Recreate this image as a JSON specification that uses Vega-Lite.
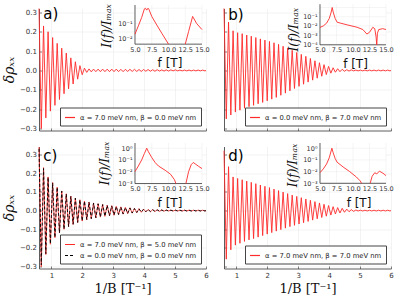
{
"$schema":"https://vega.github.io/schema/vega-lite/v6.json",
"background":"white",
"padding":{"left":2,"top":3.5,"right":0,"bottom":0},
"datasets":{
"a":[{"x":0.6,"y":0.32},{"x":0.674,"y":-0.3},{"x":0.747,"y":0.23},{"x":0.821,"y":-0.245},{"x":0.894,"y":0.2},{"x":0.968,"y":-0.21},{"x":1.041,"y":0.17},{"x":1.115,"y":-0.18},{"x":1.188,"y":0.14},{"x":1.262,"y":-0.15},{"x":1.335,"y":0.115},{"x":1.409,"y":-0.12},{"x":1.482,"y":0.09},{"x":1.556,"y":-0.095},{"x":1.629,"y":0.065},{"x":1.703,"y":-0.07},{"x":1.776,"y":0.045},{"x":1.85,"y":-0.045},{"x":1.923,"y":0.025},{"x":1.997,"y":-0.022},{"x":2.07,"y":0.012},{"x":2.144,"y":-0.01},{"x":2.217,"y":0.008},{"x":2.291,"y":-0.007},{"x":2.364,"y":0.007},{"x":2.438,"y":-0.006},{"x":2.511,"y":0.007},{"x":2.585,"y":-0.006},{"x":2.658,"y":0.007},{"x":2.732,"y":-0.006},{"x":2.805,"y":0.007},{"x":2.879,"y":-0.006},{"x":2.952,"y":0.007},{"x":3.026,"y":-0.006},{"x":3.099,"y":0.007},{"x":3.173,"y":-0.006},{"x":3.246,"y":0.006},{"x":3.32,"y":-0.006},{"x":3.393,"y":0.006},{"x":3.467,"y":-0.005},{"x":3.54,"y":0.006},{"x":3.614,"y":-0.005},{"x":3.687,"y":0.006},{"x":3.761,"y":-0.005},{"x":3.834,"y":0.005},{"x":3.908,"y":-0.005},{"x":3.981,"y":0.005},{"x":4.055,"y":-0.004},{"x":4.128,"y":0.005},{"x":4.202,"y":-0.004},{"x":4.275,"y":0.004},{"x":4.349,"y":-0.004},{"x":4.422,"y":0.004},{"x":4.496,"y":-0.003},{"x":4.569,"y":0.003},{"x":4.643,"y":-0.003},{"x":4.716,"y":0.003},{"x":4.79,"y":-0.003},{"x":4.863,"y":0.003},{"x":4.937,"y":-0.002},{"x":5.01,"y":0.003},{"x":5.084,"y":-0.002},{"x":5.157,"y":0.002},{"x":5.231,"y":-0.002},{"x":5.304,"y":0.002},{"x":5.378,"y":-0.002},{"x":5.451,"y":0.002},{"x":5.525,"y":-0.002},{"x":5.598,"y":0.002},{"x":5.672,"y":-0.002},{"x":5.745,"y":0.002},{"x":5.819,"y":-0.002},{"x":5.892,"y":0.002},{"x":5.966,"y":-0.002},{"x":6,"y":0}],
"b":[{"x":0.6,"y":0.32},{"x":0.674,"y":-0.25},{"x":0.747,"y":0.25},{"x":0.821,"y":-0.23},{"x":0.894,"y":0.205},{"x":0.968,"y":-0.215},{"x":1.041,"y":0.195},{"x":1.115,"y":-0.205},{"x":1.188,"y":0.19},{"x":1.262,"y":-0.195},{"x":1.335,"y":0.183},{"x":1.409,"y":-0.187},{"x":1.482,"y":0.177},{"x":1.556,"y":-0.18},{"x":1.629,"y":0.17},{"x":1.703,"y":-0.172},{"x":1.776,"y":0.163},{"x":1.85,"y":-0.165},{"x":1.923,"y":0.157},{"x":1.997,"y":-0.157},{"x":2.07,"y":0.15},{"x":2.144,"y":-0.148},{"x":2.217,"y":0.143},{"x":2.291,"y":-0.139},{"x":2.364,"y":0.135},{"x":2.438,"y":-0.128},{"x":2.511,"y":0.125},{"x":2.585,"y":-0.117},{"x":2.658,"y":0.115},{"x":2.732,"y":-0.105},{"x":2.805,"y":0.104},{"x":2.879,"y":-0.093},{"x":2.952,"y":0.093},{"x":3.026,"y":-0.082},{"x":3.099,"y":0.083},{"x":3.173,"y":-0.071},{"x":3.246,"y":0.073},{"x":3.32,"y":-0.06},{"x":3.393,"y":0.062},{"x":3.467,"y":-0.05},{"x":3.54,"y":0.05},{"x":3.614,"y":-0.04},{"x":3.687,"y":0.04},{"x":3.761,"y":-0.03},{"x":3.834,"y":0.03},{"x":3.908,"y":-0.021},{"x":3.981,"y":0.021},{"x":4.055,"y":-0.014},{"x":4.128,"y":0.014},{"x":4.202,"y":-0.009},{"x":4.275,"y":0.009},{"x":4.349,"y":-0.006},{"x":4.422,"y":0.006},{"x":4.496,"y":-0.004},{"x":4.569,"y":0.004},{"x":4.643,"y":-0.003},{"x":4.716,"y":0.003},{"x":4.79,"y":-0.002},{"x":4.863,"y":0.002},{"x":4.937,"y":-0.002},{"x":5.01,"y":0.002},{"x":5.084,"y":-0.002},{"x":5.157,"y":0.002},{"x":5.231,"y":-0.002},{"x":5.304,"y":0.002},{"x":5.378,"y":-0.002},{"x":5.451,"y":0.002},{"x":5.525,"y":-0.002},{"x":5.598,"y":0.002},{"x":5.672,"y":-0.002},{"x":5.745,"y":0.002},{"x":5.819,"y":-0.002},{"x":5.892,"y":0.002},{"x":5.966,"y":-0.002},{"x":6,"y":0}],
"c1":[{"x":0.6,"y":0.34},{"x":0.674,"y":-0.3},{"x":0.747,"y":0.23},{"x":0.821,"y":-0.235},{"x":0.894,"y":0.18},{"x":0.968,"y":-0.18},{"x":1.041,"y":0.15},{"x":1.115,"y":-0.145},{"x":1.188,"y":0.125},{"x":1.262,"y":-0.12},{"x":1.335,"y":0.105},{"x":1.409,"y":-0.1},{"x":1.482,"y":0.09},{"x":1.556,"y":-0.086},{"x":1.629,"y":0.077},{"x":1.703,"y":-0.074},{"x":1.776,"y":0.067},{"x":1.85,"y":-0.064},{"x":1.923,"y":0.058},{"x":1.997,"y":-0.056},{"x":2.07,"y":0.051},{"x":2.144,"y":-0.049},{"x":2.217,"y":0.046},{"x":2.291,"y":-0.044},{"x":2.364,"y":0.041},{"x":2.438,"y":-0.039},{"x":2.511,"y":0.037},{"x":2.585,"y":-0.035},{"x":2.658,"y":0.033},{"x":2.732,"y":-0.031},{"x":2.805,"y":0.029},{"x":2.879,"y":-0.028},{"x":2.952,"y":0.026},{"x":3.026,"y":-0.025},{"x":3.099,"y":0.023},{"x":3.173,"y":-0.022},{"x":3.246,"y":0.02},{"x":3.32,"y":-0.019},{"x":3.393,"y":0.017},{"x":3.467,"y":-0.016},{"x":3.54,"y":0.015},{"x":3.614,"y":-0.014},{"x":3.687,"y":0.012},{"x":3.761,"y":-0.011},{"x":3.834,"y":0.01},{"x":3.908,"y":-0.009},{"x":3.981,"y":0.008},{"x":4.055,"y":-0.007},{"x":4.128,"y":0.006},{"x":4.202,"y":-0.006},{"x":4.275,"y":0.005},{"x":4.349,"y":-0.005},{"x":4.422,"y":0.004},{"x":4.496,"y":-0.004},{"x":4.569,"y":0.003},{"x":4.643,"y":-0.003},{"x":4.716,"y":0.003},{"x":4.79,"y":-0.002},{"x":4.863,"y":0.002},{"x":4.937,"y":-0.002},{"x":5.01,"y":0.002},{"x":5.084,"y":-0.002},{"x":5.157,"y":0.002},{"x":5.231,"y":-0.002},{"x":5.304,"y":0.002},{"x":5.378,"y":-0.002},{"x":5.451,"y":0.002},{"x":5.525,"y":-0.002},{"x":5.598,"y":0.002},{"x":5.672,"y":-0.002},{"x":5.745,"y":0.002},{"x":5.819,"y":-0.002},{"x":5.892,"y":0.002},{"x":5.966,"y":-0.002},{"x":6,"y":0}],
"c0":[{"x":0.6,"y":0.33},{"x":0.674,"y":-0.29},{"x":0.747,"y":0.225},{"x":0.821,"y":-0.23},{"x":0.894,"y":0.177},{"x":0.968,"y":-0.177},{"x":1.041,"y":0.148},{"x":1.115,"y":-0.143},{"x":1.188,"y":0.124},{"x":1.262,"y":-0.119},{"x":1.335,"y":0.104},{"x":1.409,"y":-0.099},{"x":1.482,"y":0.089},{"x":1.556,"y":-0.085},{"x":1.629,"y":0.076},{"x":1.703,"y":-0.073},{"x":1.776,"y":0.066},{"x":1.85,"y":-0.063},{"x":1.923,"y":0.057},{"x":1.997,"y":-0.055},{"x":2.07,"y":0.05},{"x":2.144,"y":-0.048},{"x":2.217,"y":0.045},{"x":2.291,"y":-0.043},{"x":2.364,"y":0.04},{"x":2.438,"y":-0.038},{"x":2.511,"y":0.036},{"x":2.585,"y":-0.034},{"x":2.658,"y":0.032},{"x":2.732,"y":-0.03},{"x":2.805,"y":0.028},{"x":2.879,"y":-0.027},{"x":2.952,"y":0.025},{"x":3.026,"y":-0.024},{"x":3.099,"y":0.022},{"x":3.173,"y":-0.021},{"x":3.246,"y":0.019},{"x":3.32,"y":-0.018},{"x":3.393,"y":0.016},{"x":3.467,"y":-0.015},{"x":3.54,"y":0.014},{"x":3.614,"y":-0.013},{"x":3.687,"y":0.011},{"x":3.761,"y":-0.01},{"x":3.834,"y":0.009},{"x":3.908,"y":-0.008},{"x":3.981,"y":0.007},{"x":4.055,"y":-0.006},{"x":4.128,"y":0.006},{"x":4.202,"y":-0.005},{"x":4.275,"y":0.005},{"x":4.349,"y":-0.004},{"x":4.422,"y":0.004},{"x":4.496,"y":-0.003},{"x":4.569,"y":0.003},{"x":4.643,"y":-0.003},{"x":4.716,"y":0.002},{"x":4.79,"y":-0.002},{"x":4.863,"y":0.002},{"x":4.937,"y":-0.002},{"x":5.01,"y":0.002},{"x":5.084,"y":-0.002},{"x":5.157,"y":0.002},{"x":5.231,"y":-0.002},{"x":5.304,"y":0.002},{"x":5.378,"y":-0.002},{"x":5.451,"y":0.002},{"x":5.525,"y":-0.002},{"x":5.598,"y":0.002},{"x":5.672,"y":-0.002},{"x":5.745,"y":0.002},{"x":5.819,"y":-0.002},{"x":5.892,"y":0.002},{"x":5.966,"y":-0.002},{"x":6,"y":0}],
"d":[{"x":0.6,"y":0.32},{"x":0.674,"y":-0.26},{"x":0.747,"y":0.235},{"x":0.821,"y":-0.21},{"x":0.894,"y":0.18},{"x":0.968,"y":-0.185},{"x":1.041,"y":0.172},{"x":1.115,"y":-0.175},{"x":1.188,"y":0.165},{"x":1.262,"y":-0.165},{"x":1.335,"y":0.158},{"x":1.409,"y":-0.157},{"x":1.482,"y":0.151},{"x":1.556,"y":-0.15},{"x":1.629,"y":0.144},{"x":1.703,"y":-0.142},{"x":1.776,"y":0.137},{"x":1.85,"y":-0.134},{"x":1.923,"y":0.13},{"x":1.997,"y":-0.126},{"x":2.07,"y":0.123},{"x":2.144,"y":-0.118},{"x":2.217,"y":0.115},{"x":2.291,"y":-0.11},{"x":2.364,"y":0.107},{"x":2.438,"y":-0.102},{"x":2.511,"y":0.099},{"x":2.585,"y":-0.094},{"x":2.658,"y":0.091},{"x":2.732,"y":-0.086},{"x":2.805,"y":0.083},{"x":2.879,"y":-0.079},{"x":2.952,"y":0.076},{"x":3.026,"y":-0.072},{"x":3.099,"y":0.069},{"x":3.173,"y":-0.065},{"x":3.246,"y":0.062},{"x":3.32,"y":-0.058},{"x":3.393,"y":0.055},{"x":3.467,"y":-0.051},{"x":3.54,"y":0.048},{"x":3.614,"y":-0.044},{"x":3.687,"y":0.041},{"x":3.761,"y":-0.037},{"x":3.834,"y":0.034},{"x":3.908,"y":-0.03},{"x":3.981,"y":0.027},{"x":4.055,"y":-0.024},{"x":4.128,"y":0.021},{"x":4.202,"y":-0.018},{"x":4.275,"y":0.016},{"x":4.349,"y":-0.013},{"x":4.422,"y":0.012},{"x":4.496,"y":-0.009},{"x":4.569,"y":0.008},{"x":4.643,"y":-0.006},{"x":4.716,"y":0.005},{"x":4.79,"y":-0.004},{"x":4.863,"y":0.003},{"x":4.937,"y":-0.002},{"x":5.01,"y":0.002},{"x":5.084,"y":-0.002},{"x":5.157,"y":0.002},{"x":5.231,"y":-0.002},{"x":5.304,"y":0.002},{"x":5.378,"y":-0.002},{"x":5.451,"y":0.002},{"x":5.525,"y":-0.002},{"x":5.598,"y":0.002},{"x":5.672,"y":-0.002},{"x":5.745,"y":0.002},{"x":5.819,"y":-0.002},{"x":5.892,"y":0.002},{"x":5.966,"y":-0.002},{"x":6,"y":0}],
"ia":[{"f":5.0,"I":0.02,"p":1},{"f":5.5,"I":0.07,"p":1},{"f":6.0,"I":0.25,"p":1},{"f":6.4,"I":0.9,"p":1},{"f":6.55,"I":1.0,"p":1},{"f":6.75,"I":0.75,"p":1},{"f":6.95,"I":1.0,"p":1},{"f":7.1,"I":0.8,"p":1},{"f":7.5,"I":0.29,"p":1},{"f":8.25,"I":0.08,"p":1},{"f":9.0,"I":0.023,"p":1},{"f":10.0,"I":0.00447,"p":1},{"f":12.5,"I":0.00447,"p":2},{"f":13.0,"I":0.03,"p":2},{"f":13.6,"I":0.29,"p":2},{"f":14.2,"I":0.1,"p":2},{"f":15.0,"I":0.04,"p":2}],
"ib":[{"f":5.0,"I":0.0068,"p":1},{"f":5.5,"I":0.01,"p":1},{"f":6.0,"I":0.02,"p":1},{"f":6.4,"I":0.063,"p":1},{"f":6.7,"I":0.32,"p":1},{"f":6.85,"I":1.0,"p":1},{"f":7.0,"I":0.32,"p":1},{"f":7.3,"I":0.063,"p":1},{"f":7.6,"I":0.025,"p":1},{"f":9.1,"I":0.013,"p":1},{"f":10.6,"I":0.0072,"p":1},{"f":11.5,"I":0.004,"p":1},{"f":12.1,"I":0.0013,"p":1},{"f":12.5,"I":0.002,"p":1},{"f":13.0,"I":0.007,"p":1},{"f":13.3,"I":0.005,"p":1},{"f":13.5,"I":0.0006,"p":1},{"f":13.6,"I":0.000088,"p":1},{"f":13.7,"I":0.0016,"p":1},{"f":13.9,"I":0.004,"p":1},{"f":14.5,"I":0.005,"p":1},{"f":15.0,"I":0.004,"p":1}],
"ic":[{"f":5.0,"I":0.01,"p":1},{"f":5.5,"I":0.03,"p":1},{"f":6.0,"I":0.1,"p":1},{"f":6.4,"I":0.35,"p":1},{"f":6.75,"I":1.0,"p":1},{"f":7.0,"I":0.5,"p":1},{"f":7.5,"I":0.16,"p":1},{"f":8.0,"I":0.06,"p":1},{"f":8.5,"I":0.03,"p":1},{"f":9.5,"I":0.013,"p":1},{"f":10.3,"I":0.006,"p":1},{"f":10.9,"I":0.002,"p":1},{"f":11.1,"I":0.00095,"p":1},{"f":12.6,"I":0.00095,"p":2},{"f":13.0,"I":0.01,"p":2},{"f":13.4,"I":0.04,"p":2},{"f":13.7,"I":0.06,"p":2},{"f":14.0,"I":0.045,"p":2},{"f":14.5,"I":0.028,"p":2},{"f":15.0,"I":0.018,"p":2}],
"id":[{"f":5.0,"I":0.008,"p":1},{"f":5.5,"I":0.017,"p":1},{"f":6.0,"I":0.045,"p":1},{"f":6.4,"I":0.15,"p":1},{"f":6.8,"I":1.0,"p":1},{"f":7.0,"I":0.4,"p":1},{"f":7.3,"I":0.13,"p":1},{"f":7.6,"I":0.063,"p":1},{"f":8.5,"I":0.025,"p":1},{"f":9.5,"I":0.01,"p":1},{"f":10.5,"I":0.0035,"p":1},{"f":11.1,"I":0.0016,"p":1},{"f":11.3,"I":0.001,"p":1},{"f":12.6,"I":0.001,"p":2},{"f":12.9,"I":0.004,"p":2},{"f":13.3,"I":0.008,"p":2},{"f":13.6,"I":0.0063,"p":2},{"f":14.0,"I":0.011,"p":2},{"f":14.4,"I":0.008,"p":2},{"f":14.7,"I":0.0063,"p":2},{"f":15.0,"I":0.0045,"p":2}],
"gv":[{"g":7.5},{"g":10},{"g":12.5},{"g":15}]
},
"config":{
"view":{"stroke":null},
"font":"DejaVu Sans",
"axis":{"labelFont":"DejaVu Sans","labelFontSize":7,"labelColor":"#333","domainColor":"#333","domainWidth":0.8,"tickColor":"#333","tickSize":-2.5,"tickWidth":0.6,"labelPadding":5,"gridColor":"#e6e6e6","gridWidth":0.5,"grid":true,"titleFont":"DejaVu Serif","titleFontWeight":"normal","titleFontSize":14,"titleColor":"#111","labelOverlap":false,"labelFlush":false,"tickCount":20},
"legend":{"orient":"bottom-right","offset":5,"padding":4,"strokeColor":"#444","fillColor":"#ffffff","labelFont":"DejaVu Sans","labelFontSize":6.8,"labelColor":"#222","symbolType":"stroke","symbolSize":100,"symbolStrokeWidth":1.2,"rowPadding":1,"labelLimit":400,"zindex":1}
},
"columns":2,
"spacing":{"row":16,"column":18},
"bounds":"flush",
"resolve":{"scale":{"color":"independent","strokeDash":"independent"},"legend":{"color":"independent","strokeDash":"independent"}},
"concat":[
{"width":167,"height":122,
"layer":[
{"layer":[
{"data":{"name":"a"},"mark":{"type":"line","strokeWidth":0.9},
"encoding":{
"x":{"field":"x","type":"quantitative","scale":{"domain":[0.6,6],"nice":false,"zero":false},"axis":{"values":[1,2,3,4,5,6],"tickCount":20,"labels":false,"title":null}},
"y":{"field":"y","type":"quantitative","scale":{"domain":[-0.31,0.32],"nice":false,"zero":false},"axis":{"values":[-0.3,-0.2,-0.1,0,0.1,0.2,0.3],"tickCount":20,"format":".1f","labelOverlap":false,"title":"δρₓₓ","titleFontStyle":"italic","titlePadding":3}},
"color":{"datum":"α = 7.0 meV nm, β = 0.0 meV nm","scale":{"range":["#ff2a2a"]},"legend":{"title":null}}}},
{"data":{"values":[{}]},"mark":{"type":"text","fontSize":15,"align":"left","baseline":"middle","font":"DejaVu Sans","color":"#000"},
"encoding":{"x":{"datum":0.74},"y":{"datum":0.29},"text":{"value":"a)"}}}
]},
{"layer":[
{"data":{"values":[{}]},"mark":{"type":"rect","fill":"white"},
"encoding":{
"x":{"datum":5,"type":"quantitative","scale":{"domain":[-9.328,15.597],"nice":false,"zero":false},"axis":{"orient":"bottom","offset":-86.3,"values":[5,7.5,10,12.5,15],"tickCount":20,"format":".1f","labelOverlap":false,"domain":false,"ticks":false,"grid":false,"labelFontSize":6.5,"labelPadding":2,"title":null}},
"x2":{"datum":15},
"y":{"datum":0.00447,"type":"quantitative","scale":{"type":"log","domain":[1.016e-8,0.956],"nice":false},"axis":{"orient":"left","offset":-96,"values":[1,0.1,0.01],"tickCount":20,"labelOverlap":false,"labelExpr":"datum.value >= 0.5 ? '10⁰' : datum.value >= 0.05 ? '10⁻¹' : datum.value >= 0.005 ? '10⁻²' : datum.value >= 0.0005 ? '10⁻³' : '10⁻⁴'","domain":false,"ticks":false,"grid":false,"labelFontSize":6.5,"labelPadding":3,"title":null}},
"y2":{"datum":1.62}}},
{"data":{"name":"gv"},"mark":{"type":"rule","stroke":"#ebebeb","strokeWidth":0.5},"encoding":{"x":{"field":"g","type":"quantitative"},"y":{"datum":0.00447},"y2":{"datum":1.62}}},
{"data":{"values":[{"h":1},{"h":0.1},{"h":0.01}]},"mark":{"type":"rule","stroke":"#ebebeb","strokeWidth":0.5},"encoding":{"y":{"field":"h","type":"quantitative"},"x":{"datum":5},"x2":{"datum":15}}},
{"data":{"values":[{}]},"mark":{"type":"rule","stroke":"#333","strokeWidth":0.8},"encoding":{"x":{"datum":5},"y":{"datum":0.00447},"y2":{"datum":1.62}}},
{"data":{"values":[{}]},"mark":{"type":"rule","stroke":"#333","strokeWidth":0.8},"encoding":{"x":{"datum":5},"x2":{"datum":15},"y":{"datum":0.00447}}},
{"data":{"name":"ia"},"mark":{"type":"line","stroke":"#ff2a2a","strokeWidth":0.9},"encoding":{"x":{"field":"f","type":"quantitative"},"y":{"field":"I","type":"quantitative"},"detail":{"field":"p","type":"nominal"}}},
{"data":{"values":[{}]},"mark":{"type":"text","angle":270,"font":"DejaVu Serif","fontStyle":"italic","fontSize":12,"align":"center","baseline":"middle","color":"#111"},"encoding":{"x":{"datum":0.821},"y":{"datum":0.0687},"text":{"value":"I(f)/Iₘₐₓ"}}},
{"data":{"values":[{}]},"mark":{"type":"text","font":"DejaVu Sans","fontSize":12,"align":"center","baseline":"middle","color":"#111"},"encoding":{"x":{"datum":10.22},"y":{"datum":0.000282},"text":{"value":"f [T]"}}}
]}
],
"resolve":{"scale":{"x":"independent","y":"independent"},"axis":{"x":"independent","y":"independent"}}},
{"width":167,"height":122,
"layer":[
{"layer":[
{"data":{"name":"b"},"mark":{"type":"line","strokeWidth":0.9},
"encoding":{
"x":{"field":"x","type":"quantitative","scale":{"domain":[0.6,6],"nice":false,"zero":false},"axis":{"values":[1,2,3,4,5,6],"tickCount":20,"labels":false,"title":null}},
"y":{"field":"y","type":"quantitative","scale":{"domain":[-0.31,0.32],"nice":false,"zero":false},"axis":{"values":[-0.3,-0.2,-0.1,0,0.1,0.2,0.3],"tickCount":20,"labels":false,"title":null}},
"color":{"datum":"α = 0.0 meV nm, β = 7.0 meV nm","scale":{"range":["#ff2a2a"]},"legend":{"title":null}}}},
{"data":{"values":[{}]},"mark":{"type":"text","fontSize":15,"align":"left","baseline":"middle","font":"DejaVu Sans","color":"#000"},
"encoding":{"x":{"datum":0.74},"y":{"datum":0.285},"text":{"value":"b)"}}}
]},
{"layer":[
{"data":{"values":[{}]},"mark":{"type":"rect","fill":"white"},
"encoding":{
"x":{"datum":5,"type":"quantitative","scale":{"domain":[-9.545,15.758],"nice":false,"zero":false},"axis":{"orient":"bottom","offset":-85.7,"values":[5,7.5,10,12.5,15],"tickCount":20,"format":".1f","labelOverlap":false,"domain":false,"ticks":false,"grid":false,"labelFontSize":6.5,"labelPadding":2,"title":null}},
"x2":{"datum":15},
"y":{"datum":0.000088,"type":"quantitative","scale":{"type":"log","domain":[4.27e-14,0.7786],"nice":false},"axis":{"orient":"left","offset":-96,"values":[1,0.1,0.01,0.001,0.0001],"tickCount":20,"labelOverlap":false,"labelExpr":"datum.value >= 0.5 ? '10⁰' : datum.value >= 0.05 ? '10⁻¹' : datum.value >= 0.005 ? '10⁻²' : datum.value >= 0.0005 ? '10⁻³' : '10⁻⁴'","domain":false,"ticks":false,"grid":false,"labelFontSize":6.5,"labelPadding":3,"title":null}},
"y2":{"datum":2.28}}},
{"data":{"name":"gv"},"mark":{"type":"rule","stroke":"#ebebeb","strokeWidth":0.5},"encoding":{"x":{"field":"g","type":"quantitative"},"y":{"datum":0.000088},"y2":{"datum":2.28}}},
{"data":{"values":[{"h":1},{"h":0.1},{"h":0.01},{"h":0.001},{"h":0.0001}]},"mark":{"type":"rule","stroke":"#ebebeb","strokeWidth":0.5},"encoding":{"y":{"field":"h","type":"quantitative"},"x":{"datum":5},"x2":{"datum":15}}},
{"data":{"values":[{}]},"mark":{"type":"rule","stroke":"#333","strokeWidth":0.8},"encoding":{"x":{"datum":5},"y":{"datum":0.000088},"y2":{"datum":2.28}}},
{"data":{"values":[{}]},"mark":{"type":"rule","stroke":"#333","strokeWidth":0.8},"encoding":{"x":{"datum":5},"x2":{"datum":15},"y":{"datum":0.000088}}},
{"data":{"name":"ib"},"mark":{"type":"line","stroke":"#ff2a2a","strokeWidth":0.9},"encoding":{"x":{"field":"f","type":"quantitative"},"y":{"field":"I","type":"quantitative"},"detail":{"field":"p","type":"nominal"}}},
{"data":{"values":[{}]},"mark":{"type":"text","angle":270,"font":"DejaVu Serif","fontStyle":"italic","fontSize":12,"align":"center","baseline":"middle","color":"#111"},"encoding":{"x":{"datum":1.107},"y":{"datum":0.00377},"text":{"value":"I(f)/Iₘₐₓ"}}},
{"data":{"values":[{}]},"mark":{"type":"text","font":"DejaVu Sans","fontSize":12,"align":"center","baseline":"middle","color":"#111"},"encoding":{"x":{"datum":10.38},"y":{"datum":8.18e-7},"text":{"value":"f [T]"}}}
]}
],
"resolve":{"scale":{"x":"independent","y":"independent"},"axis":{"x":"independent","y":"independent"}}},
{"width":167,"height":122,
"layer":[
{"layer":[
{"data":{"name":"c1"},"mark":{"type":"line","strokeWidth":0.9},
"encoding":{
"x":{"field":"x","type":"quantitative","scale":{"domain":[0.6,6],"nice":false,"zero":false},"axis":{"values":[1,2,3,4,5,6],"tickCount":20,"format":"d","labelOverlap":false,"title":"1/B [T⁻¹]","titleFontSize":13,"titlePadding":4}},
"y":{"field":"y","type":"quantitative","scale":{"domain":[-0.31,0.343],"nice":false,"zero":false},"axis":{"values":[-0.3,-0.2,-0.1,0,0.1,0.2,0.3],"tickCount":20,"format":".1f","labelOverlap":false,"title":"δρₓₓ","titleFontStyle":"italic","titlePadding":3}},
"color":{"datum":"α = 7.0 meV nm, β = 5.0 meV nm","scale":{"domain":["α = 7.0 meV nm, β = 5.0 meV nm","α = 0.0 meV nm, β = 0.0 meV nm"],"range":["#ff2a2a","#000000"]},"legend":{"title":null}},
"strokeDash":{"datum":"α = 7.0 meV nm, β = 5.0 meV nm","scale":{"domain":["α = 7.0 meV nm, β = 5.0 meV nm","α = 0.0 meV nm, β = 0.0 meV nm"],"range":[[1,0],[3,2]]},"legend":{"title":null}}}},
{"data":{"name":"c0"},"mark":{"type":"line","strokeWidth":0.9},
"encoding":{
"x":{"field":"x","type":"quantitative"},
"y":{"field":"y","type":"quantitative"},
"color":{"datum":"α = 0.0 meV nm, β = 0.0 meV nm"},
"strokeDash":{"datum":"α = 0.0 meV nm, β = 0.0 meV nm"}}},
{"data":{"values":[{}]},"mark":{"type":"text","fontSize":15,"align":"left","baseline":"middle","font":"DejaVu Sans","color":"#000"},
"encoding":{"x":{"datum":0.74},"y":{"datum":0.293},"text":{"value":"c)"}}}
]},
{"layer":[
{"data":{"values":[{}]},"mark":{"type":"rect","fill":"white"},
"encoding":{
"x":{"datum":5,"type":"quantitative","scale":{"domain":[-9.328,15.597],"nice":false,"zero":false},"axis":{"orient":"bottom","offset":-84.9,"values":[5,7.5,10,12.5,15],"tickCount":20,"format":".1f","labelOverlap":false,"domain":false,"ticks":false,"grid":false,"labelFontSize":6.5,"labelPadding":2,"title":null}},
"x2":{"datum":15},
"y":{"datum":0.00095,"type":"quantitative","scale":{"type":"log","domain":[5.22e-11,1.397],"nice":false},"axis":{"orient":"left","offset":-96,"values":[1,0.1,0.01,0.001],"tickCount":20,"labelOverlap":false,"labelExpr":"datum.value >= 0.5 ? '10⁰' : datum.value >= 0.05 ? '10⁻¹' : datum.value >= 0.005 ? '10⁻²' : datum.value >= 0.0005 ? '10⁻³' : '10⁻⁴'","domain":false,"ticks":false,"grid":false,"labelFontSize":6.5,"labelPadding":3,"title":null}},
"y2":{"datum":2.78}}},
{"data":{"name":"gv"},"mark":{"type":"rule","stroke":"#ebebeb","strokeWidth":0.5},"encoding":{"x":{"field":"g","type":"quantitative"},"y":{"datum":0.00095},"y2":{"datum":2.78}}},
{"data":{"values":[{"h":1},{"h":0.1},{"h":0.01},{"h":0.001}]},"mark":{"type":"rule","stroke":"#ebebeb","strokeWidth":0.5},"encoding":{"y":{"field":"h","type":"quantitative"},"x":{"datum":5},"x2":{"datum":15}}},
{"data":{"values":[{}]},"mark":{"type":"rule","stroke":"#333","strokeWidth":0.8},"encoding":{"x":{"datum":5},"y":{"datum":0.00095},"y2":{"datum":2.78}}},
{"data":{"values":[{}]},"mark":{"type":"rule","stroke":"#333","strokeWidth":0.8},"encoding":{"x":{"datum":5},"x2":{"datum":15},"y":{"datum":0.00095}}},
{"data":{"name":"ic"},"mark":{"type":"line","stroke":"#ff2a2a","strokeWidth":0.9},"encoding":{"x":{"field":"f","type":"quantitative"},"y":{"field":"I","type":"quantitative"},"detail":{"field":"p","type":"nominal"}}},
{"data":{"values":[{}]},"mark":{"type":"text","angle":270,"font":"DejaVu Serif","fontStyle":"italic","fontSize":12,"align":"center","baseline":"middle","color":"#111"},"encoding":{"x":{"datum":0.597},"y":{"datum":0.0492},"text":{"value":"I(f)/Iₘₐₓ"}}},
{"data":{"values":[{}]},"mark":{"type":"text","font":"DejaVu Sans","fontSize":12,"align":"center","baseline":"middle","color":"#111"},"encoding":{"x":{"datum":10.22},"y":{"datum":1.88e-5},"text":{"value":"f [T]"}}}
]}
],
"resolve":{"scale":{"x":"independent","y":"independent"},"axis":{"x":"independent","y":"independent"}}},
{"width":167,"height":122,
"layer":[
{"layer":[
{"data":{"name":"d"},"mark":{"type":"line","strokeWidth":0.9},
"encoding":{
"x":{"field":"x","type":"quantitative","scale":{"domain":[0.6,6],"nice":false,"zero":false},"axis":{"values":[1,2,3,4,5,6],"tickCount":20,"format":"d","labelOverlap":false,"title":"1/B [T⁻¹]","titleFontSize":13,"titlePadding":4}},
"y":{"field":"y","type":"quantitative","scale":{"domain":[-0.31,0.343],"nice":false,"zero":false},"axis":{"values":[-0.3,-0.2,-0.1,0,0.1,0.2,0.3],"tickCount":20,"labels":false,"title":null}},
"color":{"datum":"α = 7.0 meV nm, β = 7.0 meV nm","scale":{"range":["#ff2a2a"]},"legend":{"title":null}}}},
{"data":{"values":[{}]},"mark":{"type":"text","fontSize":15,"align":"left","baseline":"middle","font":"DejaVu Sans","color":"#000"},
"encoding":{"x":{"datum":0.74},"y":{"datum":0.293},"text":{"value":"d)"}}}
]},
{"layer":[
{"data":{"values":[{}]},"mark":{"type":"rect","fill":"white"},
"encoding":{
"x":{"datum":5,"type":"quantitative","scale":{"domain":[-9.545,15.758],"nice":false,"zero":false},"axis":{"orient":"bottom","offset":-85.2,"values":[5,7.5,10,12.5,15],"tickCount":20,"format":".1f","labelOverlap":false,"domain":false,"ticks":false,"grid":false,"labelFontSize":6.5,"labelPadding":2,"title":null}},
"x2":{"datum":15},
"y":{"datum":0.001,"type":"quantitative","scale":{"type":"log","domain":[5.22e-11,1.397],"nice":false},"axis":{"orient":"left","offset":-96,"values":[1,0.1,0.01,0.001],"tickCount":20,"labelOverlap":false,"labelExpr":"datum.value >= 0.5 ? '10⁰' : datum.value >= 0.05 ? '10⁻¹' : datum.value >= 0.005 ? '10⁻²' : datum.value >= 0.0005 ? '10⁻³' : '10⁻⁴'","domain":false,"ticks":false,"grid":false,"labelFontSize":6.5,"labelPadding":3,"title":null}},
"y2":{"datum":2.78}}},
{"data":{"name":"gv"},"mark":{"type":"rule","stroke":"#ebebeb","strokeWidth":0.5},"encoding":{"x":{"field":"g","type":"quantitative"},"y":{"datum":0.001},"y2":{"datum":2.78}}},
{"data":{"values":[{"h":1},{"h":0.1},{"h":0.01},{"h":0.001}]},"mark":{"type":"rule","stroke":"#ebebeb","strokeWidth":0.5},"encoding":{"y":{"field":"h","type":"quantitative"},"x":{"datum":5},"x2":{"datum":15}}},
{"data":{"values":[{}]},"mark":{"type":"rule","stroke":"#333","strokeWidth":0.8},"encoding":{"x":{"datum":5},"y":{"datum":0.001},"y2":{"datum":2.78}}},
{"data":{"values":[{}]},"mark":{"type":"rule","stroke":"#333","strokeWidth":0.8},"encoding":{"x":{"datum":5},"x2":{"datum":15},"y":{"datum":0.001}}},
{"data":{"name":"id"},"mark":{"type":"line","stroke":"#ff2a2a","strokeWidth":0.9},"encoding":{"x":{"field":"f","type":"quantitative"},"y":{"field":"I","type":"quantitative"},"detail":{"field":"p","type":"nominal"}}},
{"data":{"values":[{}]},"mark":{"type":"text","angle":270,"font":"DejaVu Serif","fontStyle":"italic","fontSize":12,"align":"center","baseline":"middle","color":"#111"},"encoding":{"x":{"datum":0.91},"y":{"datum":0.0332},"text":{"value":"I(f)/Iₘₐₓ"}}},
{"data":{"values":[{}]},"mark":{"type":"text","font":"DejaVu Sans","fontSize":12,"align":"center","baseline":"middle","color":"#111"},"encoding":{"x":{"datum":10.91},"y":{"datum":1.99e-5},"text":{"value":"f [T]"}}}
]}
],
"resolve":{"scale":{"x":"independent","y":"independent"},"axis":{"x":"independent","y":"independent"}}}
]
}
